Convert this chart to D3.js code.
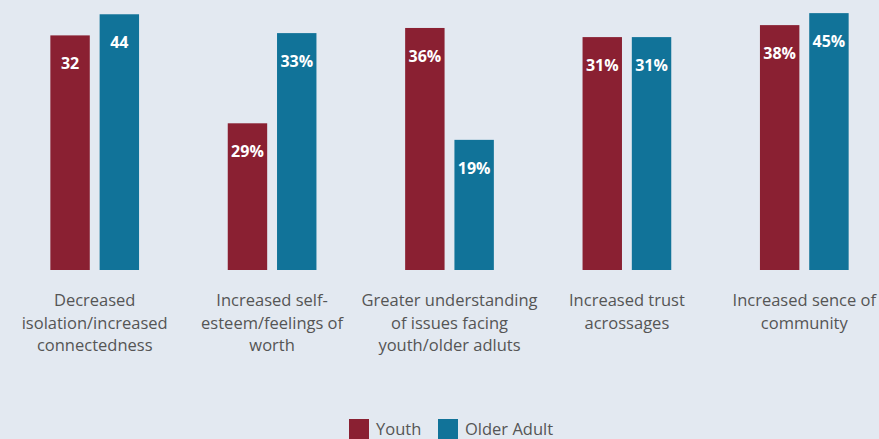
<!DOCTYPE html>
<html lang="en">
<head>
<meta charset="utf-8">
<title></title>
<script src="https://d3js.org/d3.v7.min.js"></script>
<style type="text/css">
  body { margin: 0; background: #e3e9f1; }
  svg { display: block; }
  .barLabel { font-family: "Open Sans", sans-serif; font-weight: 700; font-size: 16px; fill: #fff; }
  .catLabel { font-family: "Open Sans", sans-serif; font-size: 16.5px; fill: #555; }
  .legendText { font-family: "Open Sans", sans-serif; font-size: 16.5px; fill: #555; }
</style>
</head>
<body>
<svg width="879" height="439"></svg>
<script>
var categories = [
  ["Decreased", "isolation/increased", "connectedness"],
  ["Increased self-", "esteem/feelings of", "worth"],
  ["Greater understanding", "of issues facing", "youth/older adluts"],
  ["Increased trust", "acrossages"],
  ["Increased sence of", "community"]
];
var seriesNames = ["Youth", "Older Adult"];
// bar heights as drawn in the picture
var youthValues = [41.1, 25.7, 42.4, 40.8, 42.9];
var olderValues = [44.8, 41.5, 22.8, 40.8, 45.0];
// printed labels
var youthLabels = ["32", "29%", "36%", "31%", "38%"];
var olderLabels = ["44", "33%", "19%", "31%", "45%"];
var colors = ["#8a2032", "#117399"];

var svg = d3.select("svg");
var baseline = 270;

var data = categories.map(function(c, i) {
  return {
    cat: i,
    lines: c,
    bars: [
      {key: "Youth", value: youthValues[i], label: youthLabels[i]},
      {key: "Older Adult", value: olderValues[i], label: olderLabels[i]}
    ]
  };
});

var x0 = d3.scaleBand()
  .domain(d3.range(categories.length))
  .range([6, 893])
  .paddingInner(0.5)
  .paddingOuter(0.25);

var x1 = d3.scaleBand()
  .domain(seriesNames)
  .range([0, x0.bandwidth()])
  .paddingInner(0.2);

var y = d3.scaleLinear()
  .domain([0, 47.3])
  .range([baseline, 0]);

var color = d3.scaleOrdinal().domain(seriesNames).range(colors);

var groups = svg.selectAll(".grp")
  .data(data)
  .join("g")
  .attr("class", "grp")
  .attr("transform", d => `translate(${x0(d.cat)},0)`);

groups.selectAll("rect")
  .data(d => d.bars)
  .join("rect")
  .attr("x", d => x1(d.key))
  .attr("width", x1.bandwidth())
  .attr("y", d => y(d.value))
  .attr("height", d => baseline - y(d.value))
  .attr("fill", d => color(d.key));

groups.selectAll(".barLabel")
  .data(d => d.bars)
  .join("text")
  .attr("class", "barLabel")
  .attr("text-anchor", "middle")
  .attr("x", d => x1(d.key) + x1.bandwidth() / 2)
  .attr("y", d => y(d.value) + 34)
  .text(d => d.label);

groups.append("text")
  .attr("class", "catLabel")
  .attr("text-anchor", "middle")
  .attr("x", x0.bandwidth() / 2)
  .attr("y", 306)
  .selectAll("tspan")
  .data(d => d.lines)
  .join("tspan")
  .attr("x", x0.bandwidth() / 2)
  .attr("dy", (d, i) => i === 0 ? 0 : 22.5)
  .text(d => d);

// legend
var legend = svg.append("g").attr("transform", "translate(349,419)");
var legendX = [0, 89];
seriesNames.forEach(function(s, i) {
  var g = legend.append("g").attr("transform", `translate(${legendX[i]},0)`);
  g.append("rect").attr("width", 20).attr("height", 20).attr("fill", color(s));
  g.append("text").attr("class", "legendText").attr("x", 27).attr("y", 16).text(s);
});
</script>
</body>
</html>
